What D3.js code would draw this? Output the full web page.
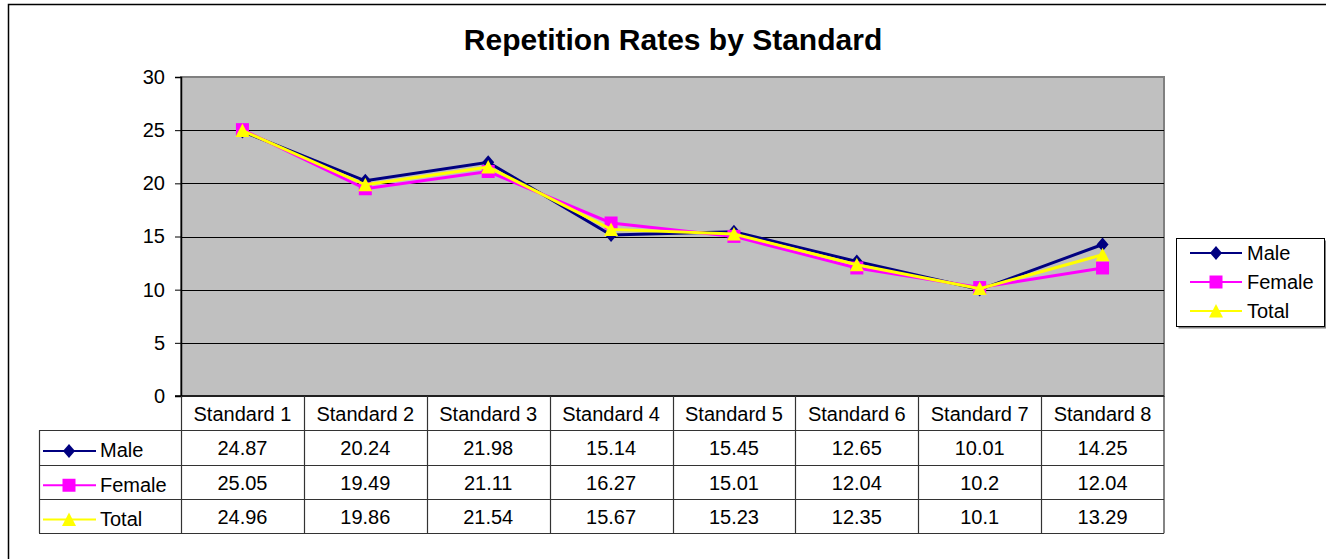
<!DOCTYPE html>
<html>
<head>
<meta charset="utf-8">
<script src="https://cdn.jsdelivr.net/npm/d3@7"></script>
<style>
  html, body { margin: 0; padding: 0; background: #fff; }
  svg { display: block; font-family: Arial, "Liberation Sans", sans-serif; }
</style>
</head>
<body>
<svg id="chart"></svg>
<script>
const width = 1326;
const height = 559;

const categories = ['Standard 1', 'Standard 2', 'Standard 3', 'Standard 4', 'Standard 5', 'Standard 6', 'Standard 7', 'Standard 8'];
const male = [24.87, 20.24, 21.98, 15.14, 15.45, 12.65, 10.01, 14.25];
const female = [25.05, 19.49, 21.11, 16.27, 15.01, 12.04, 10.2, 12.04];
const total = [24.96, 19.86, 21.54, 15.67, 15.23, 12.35, 10.1, 13.29];
const yTicks = [0, 5, 10, 15, 20, 25, 30];

const series = [
    { name: 'Male', values: male, color: '#000080', marker: 'diamond' },
    { name: 'Female', values: female, color: '#FF00FF', marker: 'square' },
    { name: 'Total', values: total, color: '#FFFF00', marker: 'triangle' }
];

const plot = { left: 181, right: 1164, top: 77, bottom: 396 };
const rowH = 34.3;

const svg = d3.select('#chart')
    .attr('width', width)
    .attr('height', height);

// outer chart border (right / bottom edges run off the picture)
svg.append('rect')
    .attr('x', 8.5).attr('y', 4.5)
    .attr('width', 1340).attr('height', 570)
    .attr('fill', '#fff')
    .attr('stroke', '#000')
    .attr('stroke-width', 1.5);

svg.append('text')
    .attr('x', 673)
    .attr('y', 50)
    .attr('text-anchor', 'middle')
    .attr('font-size', 30)
    .attr('font-weight', 'bold')
    .text('Repetition Rates by Standard');

const x = d3.scaleBand()
    .domain(categories)
    .range([plot.left, plot.right]);

const y = d3.scaleLinear()
    .domain([0, 30])
    .range([plot.bottom, plot.top]);

// plot area
svg.append('rect')
    .attr('x', plot.left).attr('y', plot.top)
    .attr('width', plot.right - plot.left)
    .attr('height', plot.bottom - plot.top)
    .attr('fill', '#C0C0C0')
    .attr('stroke', '#808080')
    .attr('stroke-width', 2);

// gridlines
svg.append('g')
    .selectAll('line')
    .data(yTicks.filter(d => d > 0 && d < 30))
    .enter()
    .append('line')
    .attr('x1', plot.left).attr('x2', plot.right)
    .attr('y1', d => Math.round(y(d)) + 0.5)
    .attr('y2', d => Math.round(y(d)) + 0.5)
    .attr('stroke', '#000')
    .attr('stroke-width', 1);

// y axis
const yAxis = d3.axisLeft(y)
    .tickValues(yTicks)
    .tickSize(6)
    .tickPadding(10);

const yG = svg.append('g')
    .attr('transform', `translate(${plot.left},0)`)
    .call(yAxis);
yG.select('.domain').attr('stroke', '#000').attr('stroke-width', 1.5);
yG.selectAll('.tick line').attr('stroke', '#000');
yG.selectAll('text')
    .attr('font-size', 20)
    .attr('font-family', 'Arial, "Liberation Sans", sans-serif')
    .attr('fill', '#000');

// series lines and markers
const line = d3.line()
    .x((d, i) => x(categories[i]) + x.bandwidth() / 2)
    .y(d => y(d));

function markerPath(type) {
    if (type === 'diamond') return 'M0,-7L6,0L0,7L-6,0Z';
    if (type === 'square') return 'M-6.5,-6.5H6.5V6.5H-6.5Z';
    return 'M0,-7L7,6.5H-7Z';
}

series.forEach(s => {
    const g = svg.append('g');
    g.append('path')
        .datum(s.values)
        .attr('d', line)
        .attr('fill', 'none')
        .attr('stroke', s.color)
        .attr('stroke-width', 3);
    g.selectAll('path.mk')
        .data(s.values)
        .enter()
        .append('path')
        .attr('class', 'mk')
        .attr('transform', (d, i) => `translate(${x(categories[i]) + x.bandwidth() / 2},${y(d)})`)
        .attr('d', markerPath(s.marker))
        .attr('fill', s.color);
});

// x axis line
svg.append('line')
    .attr('x1', plot.left - 6).attr('x2', plot.right)
    .attr('y1', plot.bottom).attr('y2', plot.bottom)
    .attr('stroke', '#000')
    .attr('stroke-width', 1.5);

// data table
const table = svg.append('g');
const keyLeft = 39;
const tableBottom = plot.bottom + rowH * 4;

// horizontal rules
for (let r = 1; r <= 4; r++) {
    const yy = Math.round(plot.bottom + rowH * r) + 0.5;
    table.append('line')
        .attr('x1', keyLeft).attr('x2', plot.right)
        .attr('y1', yy).attr('y2', yy)
        .attr('stroke', '#333').attr('stroke-width', 1.2);
}
// vertical rules
table.append('line')
    .attr('x1', keyLeft + 0.5).attr('x2', keyLeft + 0.5)
    .attr('y1', plot.bottom + rowH).attr('y2', tableBottom)
    .attr('stroke', '#333').attr('stroke-width', 1.2);
categories.forEach(c => {
    table.append('line')
        .attr('x1', Math.round(x(c)) + 0.5).attr('x2', Math.round(x(c)) + 0.5)
        .attr('y1', plot.bottom).attr('y2', tableBottom)
        .attr('stroke', '#333').attr('stroke-width', 1.2);
});
table.append('line')
    .attr('x1', plot.right).attr('x2', plot.right)
    .attr('y1', plot.bottom).attr('y2', tableBottom)
    .attr('stroke', '#333').attr('stroke-width', 1.2);

// header labels
table.selectAll('text.hdr')
    .data(categories)
    .enter()
    .append('text')
    .attr('class', 'hdr')
    .attr('x', d => x(d) + x.bandwidth() / 2)
    .attr('y', plot.bottom + rowH / 2 + 7.5)
    .attr('text-anchor', 'middle')
    .attr('font-size', 20)
    .text(d => d);

series.forEach((s, r) => {
    const cy = plot.bottom + rowH * (r + 1) + rowH / 2;
    table.selectAll(`text.v${r}`)
        .data(s.values)
        .enter()
        .append('text')
        .attr('class', `v${r}`)
        .attr('x', (d, i) => x(categories[i]) + x.bandwidth() / 2)
        .attr('y', cy + 8)
        .attr('text-anchor', 'middle')
        .attr('font-size', 20)
        .text(d => d);

    // key
    table.append('line')
        .attr('x1', 43).attr('x2', 96)
        .attr('y1', cy + 3.5).attr('y2', cy + 3.5)
        .attr('stroke', s.color).attr('stroke-width', 2);
    table.append('path')
        .attr('transform', `translate(69,${cy + 3.5})`)
        .attr('d', markerPath(s.marker))
        .attr('fill', s.color);
    table.append('text')
        .attr('x', 100)
        .attr('y', cy + 10)
        .attr('font-size', 20)
        .text(s.name);
});

// legend
const legend = svg.append('g');
legend.append('rect')
    .attr('x', 1178.5).attr('y', 240.5)
    .attr('width', 148).attr('height', 88)
    .attr('fill', '#808080');
legend.append('rect')
    .attr('x', 1176.5).attr('y', 238.5)
    .attr('width', 148).attr('height', 88)
    .attr('fill', '#fff')
    .attr('stroke', '#000')
    .attr('stroke-width', 1);

const legendY = [253, 282, 311];
series.forEach((s, i) => {
    legend.append('line')
        .attr('x1', 1190).attr('x2', 1242)
        .attr('y1', legendY[i]).attr('y2', legendY[i])
        .attr('stroke', s.color).attr('stroke-width', 2);
    legend.append('path')
        .attr('transform', `translate(1216,${legendY[i]})`)
        .attr('d', markerPath(s.marker))
        .attr('fill', s.color);
    legend.append('text')
        .attr('x', 1247)
        .attr('y', legendY[i] + 7)
        .attr('font-size', 20)
        .text(s.name);
});
</script>
</body>
</html>
